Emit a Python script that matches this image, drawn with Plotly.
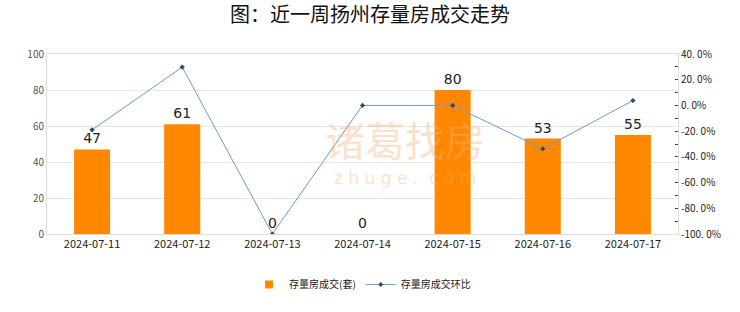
import plotly.graph_objects as go

dates = ["2024-07-11", "2024-07-12", "2024-07-13", "2024-07-14", "2024-07-15", "2024-07-16", "2024-07-17"]
volume = [47, 61, 0, 0, 80, 53, 55]
mom_pct = [-19.0, 29.8, -100.0, 0.0, 0.0, -33.75, 3.77]

left_ticks = [0, 20, 40, 60, 80, 100]
right_tickvals = [40, 20, 0, -20, -40, -60, -80, -100]
right_ticktext = ["40. 0%", "20. 0%", "0. 0%", "-20. 0%", "-40. 0%", "-60. 0%", "-80. 0%", "-100. 0%"]

title_text = "图：近一周扬州存量房成交走势"
bar_name = "存量房成交(套)"
line_name = "存量房成交环比"

FONT = "Noto Sans CJK SC"
BAR_COLOR = "#FF8800"
WM = "rgba(244,176,120,0.38)"

fig = go.Figure()
fig.add_trace(go.Bar(
    x=dates, y=volume, name=bar_name, showlegend=False,
    marker=dict(color=BAR_COLOR, line=dict(width=0)),
    width=0.4,
    text=[str(v) for v in volume], textposition="outside",
    textfont=dict(size=14, color="#222222", family="DejaVu Sans"),
    cliponaxis=False,
))
# legend proxy for the bar series (small square)
fig.add_trace(go.Scatter(
    x=[None], y=[None], name=bar_name, mode="markers",
    marker=dict(color=BAR_COLOR, size=8, symbol="square"),
))
fig.add_trace(go.Scatter(
    x=dates, y=mom_pct, name=line_name, yaxis="y2",
    mode="lines+markers",
    line=dict(color="#6B9BD1", width=1),
    marker=dict(color="#2C4A6E", size=4, symbol="diamond"),
))

# watermark
fig.add_annotation(text="诸葛找房", xref="paper", yref="paper", x=0.567, y=0.53,
                   showarrow=False, font=dict(size=40, color=WM, family=FONT))
fig.add_annotation(text="z h u g e .  c o m", xref="paper", yref="paper", x=0.567, y=0.245,
                   showarrow=False, font=dict(size=17, color=WM, family="DejaVu Sans"))

fig.update_layout(
    width=740, height=312,
    margin=dict(l=47, r=62, t=54, b=78),
    paper_bgcolor="white", plot_bgcolor="white",
    font=dict(family=FONT, color="#333333"),
    title=dict(text=title_text, x=0.5, xanchor="center", y=0.952, yanchor="middle",
               font=dict(size=20, color="#111111", family=FONT)),
    showlegend=True,
    legend=dict(orientation="h", x=0.5, xanchor="center", y=-0.2, yanchor="top",
                font=dict(size=10, color="#222222"), itemwidth=30),
    xaxis=dict(type="category", showline=True, linecolor="#DDDDDD", mirror=True,
               ticks="", tickfont=dict(size=11, color="#222222"), showgrid=False),
    yaxis=dict(range=[0, 100], tickvals=left_ticks, showgrid=True, gridcolor="#E6E6E6",
               showline=True, linecolor="#DDDDDD", zeroline=False,
               tickfont=dict(size=10, color="#555555"), ticks=""),
    yaxis2=dict(range=[-100, 40], overlaying="y", side="right",
                tickvals=right_tickvals, ticktext=right_ticktext,
                showgrid=False, zeroline=False, showline=True, linecolor="#DDDDDD",
                ticks="inside", ticklen=3, tickcolor="#444444",
                minor=dict(ticks="inside", ticklen=3, tickcolor="#444444", dtick=10),
                tickfont=dict(size=10, color="#222222")),
    bargap=0.6,
)

fig.write_html("out.html")
